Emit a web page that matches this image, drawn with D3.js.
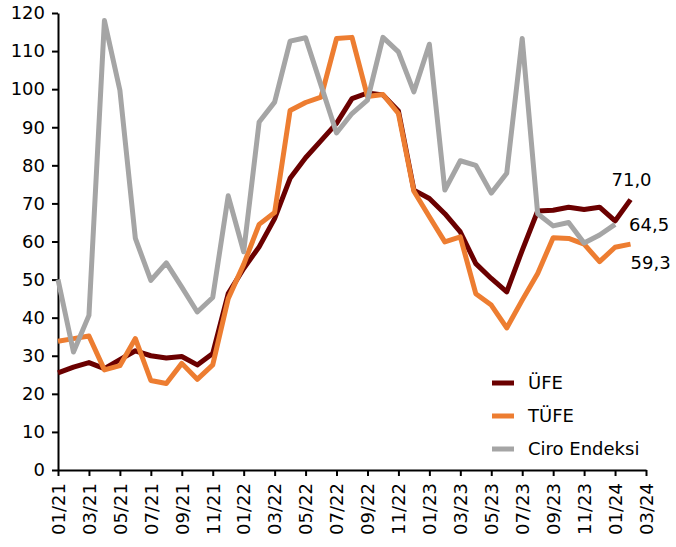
<!DOCTYPE html>
<html>
<head>
<meta charset="utf-8">
<script src="https://cdn.jsdelivr.net/npm/d3@7"></script>
<style>
  body { margin: 0; background: #fff; }
  text { font-family: "DejaVu Sans", Verdana, sans-serif; }
</style>
</head>
<body>
<div id="chart"></div>
<script>
// Month categories (every month on the axis, labels on every second one)
const months = [
    "01/21", "02/21", "03/21", "04/21", "05/21", "06/21", "07/21", "08/21", "09/21", "10/21", "11/21", "12/21",
    "01/22", "02/22", "03/22", "04/22", "05/22", "06/22", "07/22", "08/22", "09/22", "10/22", "11/22", "12/22",
    "01/23", "02/23", "03/23", "04/23", "05/23", "06/23", "07/23", "08/23", "09/23", "10/23", "11/23", "12/23",
    "01/24", "02/24", "03/24"
];
const yTicks = [0, 10, 20, 30, 40, 50, 60, 70, 80, 90, 100, 110, 120];

// Series values
const ufe = [
    25.5, 27.0, 28.2, 26.6, 29.0, 31.3, 30.0, 29.4, 29.8, 27.6, 30.6, 46.3,
    52.9, 58.6, 66.0, 76.6, 82.0, 86.5, 91.0, 97.5, 99.0, 98.5, 94.3, 73.5,
    71.3, 67.3, 62.5, 54.2, 50.3, 46.8, 57.7, 68.0, 68.2, 69.0, 68.4, 69.0,
    65.4, 71.0
];
const tufe = [
    33.8, 34.5, 35.2, 26.3, 27.4, 34.5, 23.5, 22.7, 28.0, 23.8, 27.6, 45.0,
    54.0, 64.5, 67.6, 94.4, 96.5, 97.9, 113.3, 113.6, 98.1, 98.6, 93.6, 73.2,
    66.5, 59.9, 61.2, 46.3, 43.3, 37.3, 44.6, 51.6, 61.0, 60.8, 59.3, 54.7,
    58.5, 59.3
];
const ciro = [
    50.0, 31.0, 40.6, 118.0, 99.7, 60.8, 49.8, 54.4, 48.0, 41.5, 45.3, 72.0,
    57.3, 91.4, 96.6, 112.6, 113.5, 101.0, 88.5, 93.6, 97.1, 113.6, 109.8, 99.3,
    111.8, 73.5, 81.2, 80.0, 72.7, 77.9, 113.3, 67.3, 64.1, 65.0, 59.6, 61.7,
    64.5
];

const series = [
    { name: "ÜFE", values: ufe, color: "#6b0000", label: "71,0" },
    { name: "TÜFE", values: tufe, color: "#ed7d31", label: "59,3" },
    { name: "Ciro Endeksi", values: ciro, color: "#a5a5a5", label: "64,5" }
];

const width = 676;
const height = 547;
const margin = { top: 13, right: 30, bottom: 77, left: 58 };

const svg = d3.select("#chart")
    .append("svg")
    .attr("width", width)
    .attr("height", height);

// Scales
const x = d3.scalePoint()
    .domain(months)
    .range([margin.left, width - margin.right]);

const y = d3.scaleLinear()
    .domain([0, 120])
    .range([height - margin.bottom, margin.top]);

// Axes
const yAxis = svg.append("g")
    .attr("transform", `translate(${margin.left},0)`)
    .call(d3.axisLeft(y).tickValues(yTicks).tickSize(6).tickSizeOuter(0).tickPadding(7));

const xAxis = svg.append("g")
    .attr("transform", `translate(0,${height - margin.bottom})`)
    .call(d3.axisBottom(x)
        .tickValues(months.filter((d, i) => i % 2 === 0))
        .tickSize(6).tickSizeOuter(0));

xAxis.selectAll("text")
    .attr("transform", "rotate(-90)")
    .attr("text-anchor", "end")
    .attr("x", -13)
    .attr("y", 0)
    .attr("dy", "0.35em");

[xAxis, yAxis].forEach(g => {
    g.selectAll("path, line").attr("stroke", "#000").attr("stroke-width", 2);
    g.selectAll("text").style("font-size", "18px").attr("fill", "#000");
});

// Lines
const line = d3.line()
    .x((d, i) => x(months[i]))
    .y(d => y(d));

svg.selectAll(".series")
    .data(series)
    .enter().append("path")
    .attr("class", "series")
    .attr("d", d => line(d.values))
    .attr("fill", "none")
    .attr("stroke", d => d.color)
    .attr("stroke-width", 5)
    .attr("stroke-linejoin", "round");

// Last value labels
const lastX = s => x(months[s.values.length - 1]);
const lastY = s => y(s.values[s.values.length - 1]);

svg.append("text")
    .attr("x", lastX(series[0]) + 1).attr("y", lastY(series[0]) - 14)
    .attr("text-anchor", "middle").style("font-size", "18px")
    .text(series[0].label);
svg.append("text")
    .attr("x", lastX(series[2]) + 14).attr("y", lastY(series[2]) + 7)
    .style("font-size", "18px")
    .text(series[2].label);
svg.append("text")
    .attr("x", lastX(series[1])).attr("y", lastY(series[1]) + 25)
    .style("font-size", "18px")
    .text(series[1].label);

// Legend
const legend = svg.append("g")
    .attr("transform", "translate(492,383)");
series.forEach((s, i) => {
    const row = legend.append("g").attr("transform", `translate(0,${i * 33})`);
    row.append("line")
        .attr("x1", 0).attr("x2", 22)
        .attr("stroke", s.color).attr("stroke-width", 5);
    row.append("text")
        .attr("x", 36).attr("dy", "0.35em")
        .style("font-size", "18px")
        .text(s.name);
});
</script>
</body>
</html>
